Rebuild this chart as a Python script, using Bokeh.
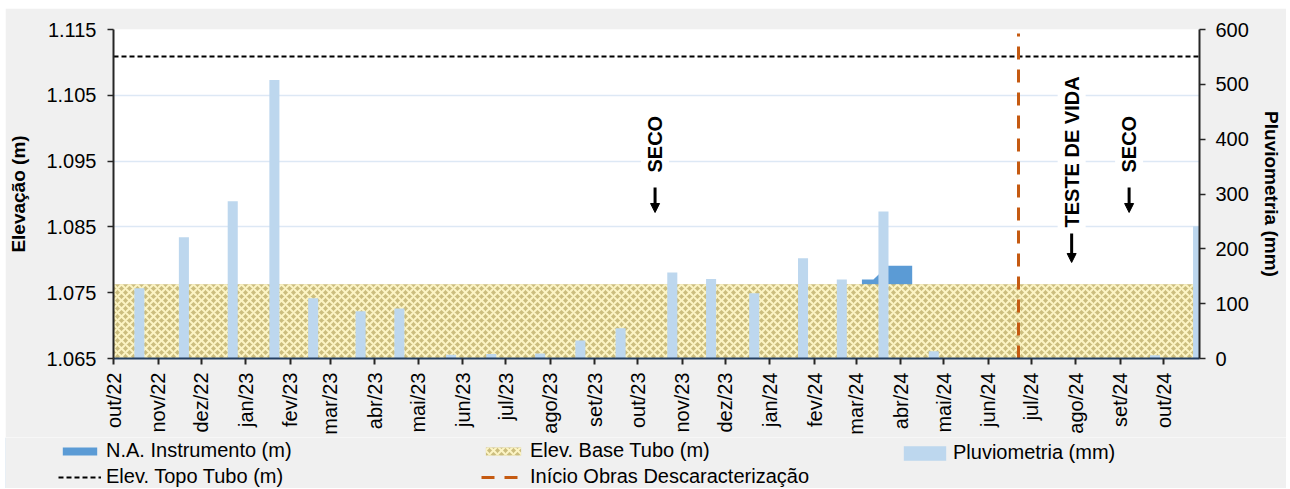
import pandas as pd
from math import pi
from bokeh.plotting import figure
from bokeh.layouts import column
from bokeh.models import (Range1d, LinearAxis, FixedTicker, Legend, LegendItem, Label,
                          Arrow, NormalHead, NumeralTickFormatter, CustomJSTickFormatter)
from bokeh.embed import file_html
from bokeh.resources import INLINE

# ---------------- data ----------------
rain_dates = ["2022-10-19", "2022-11-19", "2022-12-23", "2023-01-21", "2023-02-17",
              "2023-03-22", "2023-04-18", "2023-05-24", "2023-06-21", "2023-07-25",
              "2023-08-22", "2023-09-19", "2023-10-25", "2023-11-21", "2023-12-21",
              "2024-01-24", "2024-02-20", "2024-03-20", "2024-04-24", "2024-09-25",
              "2024-10-25"]
rain_mm = [128, 221, 287, 508, 110, 86, 91, 7, 8, 9, 33, 55, 157, 145, 119, 183, 144,
           268, 13, 6, 241]

na_dates = ["2024-03-05", "2024-03-13", "2024-03-23", "2024-04-09"]
na_level = [1.0770, 1.0770, 1.0791, 1.0791]

tube_dates = ["2022-10-01", "2024-10-26"]
base_level = [1.0763, 1.0763]
topo_level = [1.1109, 1.1109]

obras_dates = ["2024-06-22", "2024-06-22"]
obras_level = [1.065, 1.1144]

left_ticks = [1.065, 1.075, 1.085, 1.095, 1.105, 1.115]
right_ticks = [0, 100, 200, 300, 400, 500, 600]
month_names = ["jan", "fev", "mar", "abr", "mai", "jun", "jul", "ago", "set", "out", "nov", "dez"]
month_starts = [str(d.date()) for d in pd.date_range("2022-10-01", "2024-10-01", freq="MS")]

notes_text = ["SECO", "TESTE DE VIDA", "SECO"]
notes_dates = ["2023-10-13", "2024-07-29", "2024-09-07"]
notes_text_y = [1.09281, 1.08445, 1.09281]
notes_arrow_y0 = [1.09099, 1.08400, 1.09099]
notes_arrow_y1 = [1.08719, 1.07959, 1.08719]


def ms(dates):
    return [pd.Timestamp(d).value / 1e6 for d in dates]


FONT = "Liberation Sans"
DAY = 86400000.0
BG = "#f0f0f0"
W = 1281

na_style = dict(fill_color="#5b9bd5")
base_style = dict(fill_color="#cbbd7e", hatch_pattern="diagonal_cross", hatch_color="#fcf4c4",
                  hatch_scale=8, hatch_weight=2.0)
bar_style = dict(fill_color="#bdd7ee", line_color=None)
topo_style = dict(line_dash="5 3", line_width=2, color="black")
obras_style = dict(line_dash="13 10", line_width=3, color="#c55a11")

p = figure(width=W, height=429, output_backend="svg", toolbar_location=None,
           x_range=Range1d(ms(["2022-10-01"])[0], ms(["2024-10-26"])[0]),
           y_range=Range1d(1.065, 1.115),
           min_border_left=107, min_border_right=87, min_border_top=21, min_border_bottom=79,
           background_fill_color="white", border_fill_color=BG)
p.outline_line_color = None
p.extra_y_ranges = {"pluv": Range1d(0, 600)}

p.varea(x=ms(na_dates), y1=1.065, y2=na_level, **na_style)
p.varea(x=ms(tube_dates), y1=1.065, y2=base_level, **base_style)
p.vbar(x=ms(rain_dates), top=rain_mm, bottom=0, width=7 * DAY, y_range_name="pluv", **bar_style)
p.line(ms(tube_dates), topo_level, **topo_style)
p.line(ms(obras_dates), obras_level, **obras_style)

# axes
ax = p.xaxis[0]
ax.ticker = FixedTicker(ticks=ms(month_starts))
ax.formatter = CustomJSTickFormatter(args=dict(names=month_names), code="""
const d = new Date(tick);
const y = d.getUTCFullYear() % 100;
return names[d.getUTCMonth()] + "/" + String(y).padStart(2, "0");
""")
ax.major_label_orientation = pi / 2
ax.major_tick_out = 6
ax.major_tick_in = 0
ax.minor_tick_out = 0
ax.minor_tick_in = 0
ax.major_label_standoff = 8
ax.axis_line_color = "#243f60"
ax.axis_line_width = 2
ax.major_tick_line_color = "#262626"
ax.major_tick_line_width = 2

ly = p.yaxis[0]
ly.ticker = FixedTicker(ticks=left_ticks)
ly.formatter = NumeralTickFormatter(format="0.000")
ly.axis_label = "Elevação (m)"

ry = LinearAxis(y_range_name="pluv", ticker=FixedTicker(ticks=right_ticks),
                axis_label="Pluviometria (mm)")
p.add_layout(ry, "right")

for a in (ly, ry):
    a.major_tick_out = 6
    a.major_tick_in = 0
    a.minor_tick_out = 0
    a.minor_tick_in = 0
    a.axis_line_color = "#262626"
    a.axis_line_width = 2
    a.major_tick_line_color = "#262626"
    a.major_tick_line_width = 1.5
    a.axis_label_text_font_style = "bold"
    a.axis_label_text_font_size = "19px"
ly.major_label_standoff = 11
ly.axis_label_standoff = 14
ry.major_label_standoff = 10
ry.axis_label_standoff = 9

for a in (ax, ly, ry):
    a.major_label_text_font = FONT
    a.major_label_text_font_size = "20px"
    a.major_label_text_color = "black"
    a.axis_label_text_font = FONT
    a.axis_label_text_color = "black"

p.xgrid.visible = False
p.ygrid.grid_line_color = "#dde8f5"
p.ygrid.grid_line_width = 1.5

# annotations
for t, d, ty, a0, a1 in zip(notes_text, notes_dates, notes_text_y, notes_arrow_y0, notes_arrow_y1):
    x = ms([d])[0]
    p.add_layout(Label(x=x, y=ty, text=t, angle=pi / 2, text_align="left", text_baseline="middle",
                       text_font=FONT, text_font_style="bold", text_font_size="20px",
                       text_color="black", background_fill_color="white", padding=3))
    p.add_layout(Arrow(x_start=x, y_start=a0, x_end=x, y_end=a1, line_width=3, line_color="black",
                       end=NormalHead(size=9, fill_color="black", line_color="black", line_width=1)))

# ---------------- legend strip ----------------
lg = figure(width=W, height=51, output_backend="svg", toolbar_location=None,
            x_range=Range1d(0, 1), y_range=Range1d(0, 1), x_axis_location=None,
            y_axis_location=None, min_border=0, background_fill_color=BG, border_fill_color=BG)
lg.outline_line_color = None
lg.grid.visible = False
for fig in (p, lg):
    try:
        fig.frame_align = False
    except Exception:
        pass

# legend proxies, kept outside the visible range of the strip
r_na = lg.varea(x=[-3, -2], y1=[0, 0], y2=[1, 1], **na_style)
r_base = lg.varea(x=[-3, -2], y1=[0, 0], y2=[1, 1], **base_style)
r_bar = lg.vbar(x=[-3], top=[1], width=0.5, **bar_style)
r_topo = lg.line(x=[-3, -2], y=[0, 0], **topo_style)
r_obras = lg.line(x=[-3, -2], y=[0, 0], **obras_style)


def mk_legend(items, loc, gw, gh, standoff):
    leg = Legend(items=items, location=loc, orientation="vertical", glyph_width=gw, glyph_height=gh,
                 label_standoff=standoff, label_text_font=FONT, label_text_font_size="20px",
                 label_text_color="black", label_height=20, spacing=3, padding=0, margin=0,
                 background_fill_alpha=0, border_line_color=None)
    lg.add_layout(leg)


mk_legend([LegendItem(label="N.A. Instrumento (m)", renderers=[r_na]),
           LegendItem(label="Elev. Topo Tubo (m)", renderers=[r_topo])], (53, 0), 43, 10, 5)
mk_legend([LegendItem(label="Elev. Base Tubo (m)", renderers=[r_base]),
           LegendItem(label="Início Obras Descaracterização", renderers=[r_obras])], (476, 0), 44, 10, 5)
mk_legend([LegendItem(label="Pluviometria (mm)", renderers=[r_bar])], (893, 24), 53, 18, 2)

layout = column(p, lg, spacing=0, margin=(8, 4, 1, 5))
open("out.html", "w").write(file_html(layout, INLINE))
